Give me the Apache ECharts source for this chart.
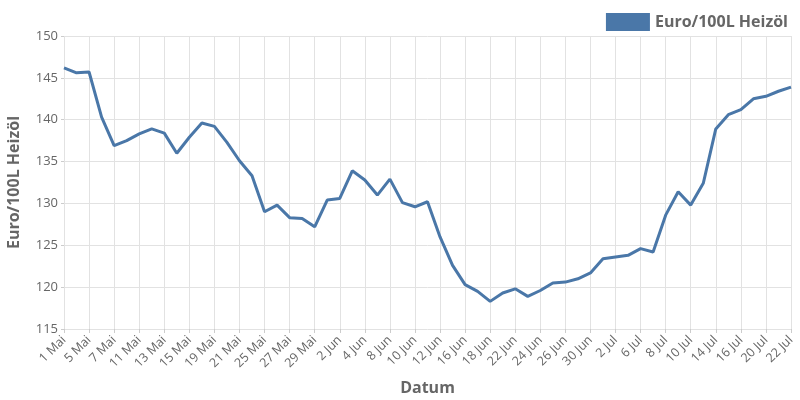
<!DOCTYPE html>
<html>
<head>
<meta charset="utf-8">
<script src="https://cdn.jsdelivr.net/npm/echarts@6/dist/echarts.min.js"></script>
<style>
  html, body { margin: 0; padding: 0; background: #fff; }
  #chart { width: 800px; height: 400px; }
</style>
</head>
<body>
<div id="chart"></div>
<script>
// Handelstage Mai - Juli
var dates = [
  '1 Mai', '4 Mai', '5 Mai', '6 Mai', '7 Mai', '8 Mai',
  '11 Mai', '12 Mai', '13 Mai', '14 Mai', '15 Mai',
  '18 Mai', '19 Mai', '20 Mai', '21 Mai', '22 Mai',
  '25 Mai', '26 Mai', '27 Mai', '28 Mai', '29 Mai',
  '1 Jun', '2 Jun', '3 Jun', '4 Jun', '5 Jun',
  '8 Jun', '9 Jun', '10 Jun', '11 Jun', '12 Jun',
  '15 Jun', '16 Jun', '17 Jun', '18 Jun', '19 Jun',
  '22 Jun', '23 Jun', '24 Jun', '25 Jun', '26 Jun',
  '29 Jun', '30 Jun', '1 Jul', '2 Jul', '3 Jul',
  '6 Jul', '7 Jul', '8 Jul', '9 Jul', '10 Jul',
  '13 Jul', '14 Jul', '15 Jul', '16 Jul', '17 Jul',
  '20 Jul', '21 Jul', '22 Jul'
]

var preise = [
  146.2, 145.6, 145.7, 140.3, 136.9, 137.5,
  138.3, 138.9, 138.4, 136.0, 137.9,
  139.6, 139.2, 137.3, 135.1, 133.3,
  129.0, 129.8, 128.3, 128.2, 127.2,
  130.4, 130.6, 133.9, 132.8, 131.0,
  132.9, 130.1, 129.6, 130.2, 126.0,
  122.6, 120.3, 119.5, 118.3, 119.3,
  119.8, 118.9, 119.6, 120.5, 120.6,
  121.0, 121.7, 123.4, 123.6, 123.8,
  124.6, 124.2, 128.6, 131.4, 129.8,
  132.4, 138.9, 140.6, 141.2, 142.5,
  142.8, 143.4, 143.9
]

var yTicks = [115, 120, 125, 130, 135, 140, 145, 150]

var seriesName = 'Euro/100L Heizöl'
var lineColor = '#4a77a8'
var font = '"Open Sans", sans-serif'

var chart = echarts.init(document.getElementById('chart'))

chart.setOption({
  animation: false,
  textStyle: { fontFamily: font },
  legend: {
    right: 7,
    top: 8,
    itemWidth: 44,
    itemHeight: 18,
    itemGap: 6,
    icon: 'rect',
    data: [seriesName],
    textStyle: { color: '#666', fontSize: 16, fontWeight: 'bold', fontFamily: font }
  },
  grid: {
    left: 64,
    right: 9,
    top: 36,
    bottom: 71,
    containLabel: false,
    outerBoundsMode: 'none'
  },
  xAxis: {
    type: 'category',
    data: dates,
    boundaryGap: false,
    name: 'Datum',
    nameLocation: 'middle',
    nameGap: 51,
    nameTextStyle: { color: '#666', fontSize: 16, fontWeight: 'bold' },
    axisLine: { show: false },
    axisTick: { show: true, interval: 1, length: 4, lineStyle: { color: '#ccc' } },
    axisLabel: {
      interval: 1,
      rotate: 45,
      color: '#666',
      fontSize: 12.5,
      margin: 9
    },
    splitLine: { show: true, interval: 1, lineStyle: { color: '#e2e2e2', width: 1 } }
  },
  yAxis: {
    type: 'value',
    min: yTicks[0],
    max: yTicks[yTicks.length - 1],
    interval: 5,
    name: seriesName,
    nameLocation: 'middle',
    nameGap: 42,
    nameTextStyle: { color: '#666', fontSize: 16, fontWeight: 'bold' },
    axisLine: { show: false },
    axisTick: { show: true, length: 3, lineStyle: { color: '#ccc' } },
    axisLabel: { color: '#666', fontSize: 13, margin: 6 },
    splitLine: { show: true, lineStyle: { color: '#e2e2e2', width: 1 } }
  },
  series: [
    {
      name: seriesName,
      type: 'line',
      data: preise,
      showSymbol: false,
      symbol: 'none',
      itemStyle: { color: lineColor },
      lineStyle: { color: lineColor, width: 3 }
    }
  ]
})
</script>
</body>
</html>
